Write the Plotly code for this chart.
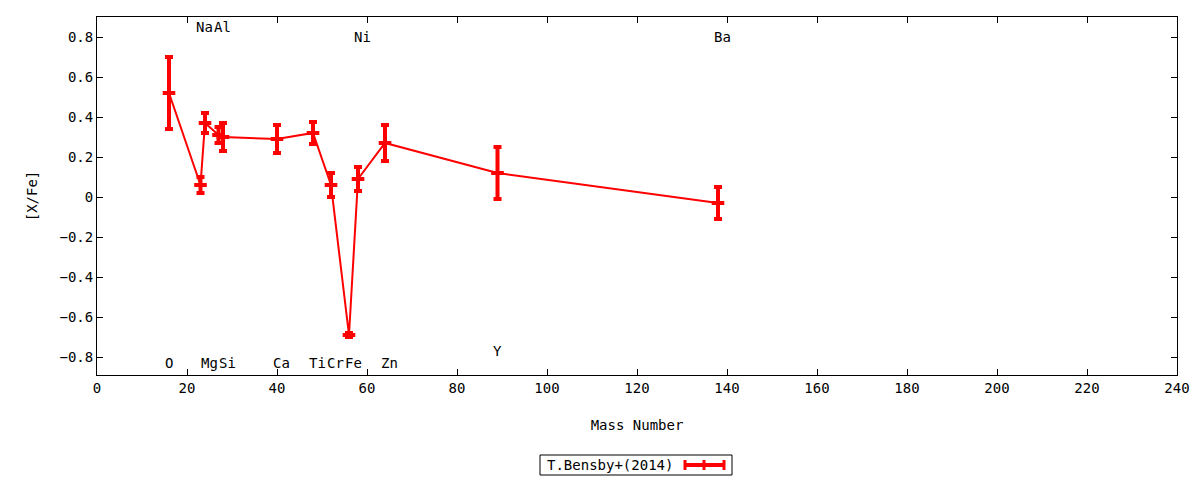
import plotly.graph_objects as go

# element data
elements = ["O", "Na", "Mg", "Al", "Si", "Ca", "Ti", "Cr", "Fe", "Ni", "Zn", "Y", "Ba"]
mass_number = [16, 23, 24, 27, 28, 40, 48, 52, 56, 58, 64, 89, 138]
x_fe = [0.52, 0.06, 0.37, 0.31, 0.30, 0.29, 0.32, 0.06, -0.69, 0.09, 0.27, 0.12, -0.03]
x_fe_err = [0.18, 0.04, 0.05, 0.04, 0.07, 0.07, 0.055, 0.06, 0.01, 0.06, 0.09, 0.13, 0.08]
label_y = [-0.83, 0.85, -0.83, 0.85, -0.83, -0.83, -0.83, -0.83, -0.83, 0.8, -0.83, -0.77, 0.8]

FONT = "DejaVu Sans Mono"
RED = "#ff0000"

# plot area in page pixels (page body has an 8px margin)
L, R, T, B = 97, 1177, 17, 375
W, H = R - L, B - T

def px(x):
	return (x - L) / W

def py(y):
	return (B - y) / H

fig = go.Figure()
fig.add_trace(go.Scatter(
	x=mass_number, y=x_fe,
	mode="lines+markers",
	line=dict(color=RED, width=2),
	marker=dict(symbol="line-ew", size=9, line=dict(color=RED, width=4)),
	error_y=dict(type="data", array=x_fe_err, color=RED, thickness=4, width=4),
	showlegend=False,
))

# element labels
for el, m, ly in zip(elements, mass_number, label_y):
	fig.add_annotation(x=m - 1.4, y=ly, text=el, showarrow=False, xanchor="left",
		yanchor="middle", font=dict(family=FONT, size=14, color="black"))

# legend box drawn by hand (gnuplot puts the sample right of the text)
fig.add_shape(type="rect", xref="paper", yref="paper", x0=px(540), x1=px(732),
	y0=py(475), y1=py(455), line=dict(color="black", width=1))
fig.add_annotation(xref="paper", yref="paper", x=px(675), y=py(465),
	text="T.Bensby+(2014)", showarrow=False, xanchor="right", yanchor="middle",
	font=dict(family=FONT, size=14, color="black"))
fig.add_shape(type="line", xref="paper", yref="paper", x0=px(684), x1=px(725),
	y0=py(465), y1=py(465), line=dict(color=RED, width=4))
for p in (685, 704, 724):
	fig.add_shape(type="line", xref="paper", yref="paper", x0=px(p), x1=px(p),
		y0=py(460), y1=py(470), line=dict(color=RED, width=3))

fig.update_layout(
	width=1200, height=480,
	margin=dict(l=L - 8, r=1200 + 8 - R, t=T - 8, b=480 + 8 - B),
	plot_bgcolor="white", paper_bgcolor="white",
	font=dict(family=FONT, size=14, color="black"),
	xaxis=dict(
		range=[0, 240], dtick=20, tick0=0,
		showgrid=False, zeroline=False,
		showline=True, linecolor="black", linewidth=1, mirror="ticks",
		ticks="inside", ticklen=6, tickcolor="black",
		title=dict(text="Mass Number", standoff=25, font=dict(size=14)),
	),
	yaxis=dict(
		range=[-0.89, 0.9], dtick=0.2, tick0=0,
		showgrid=False, zeroline=False,
		showline=True, linecolor="black", linewidth=1, mirror="ticks",
		ticks="inside", ticklen=6, tickcolor="black",
		title=dict(text="[X/Fe]", standoff=18, font=dict(size=14)),
	),
)

fig.write_html("out.html")
